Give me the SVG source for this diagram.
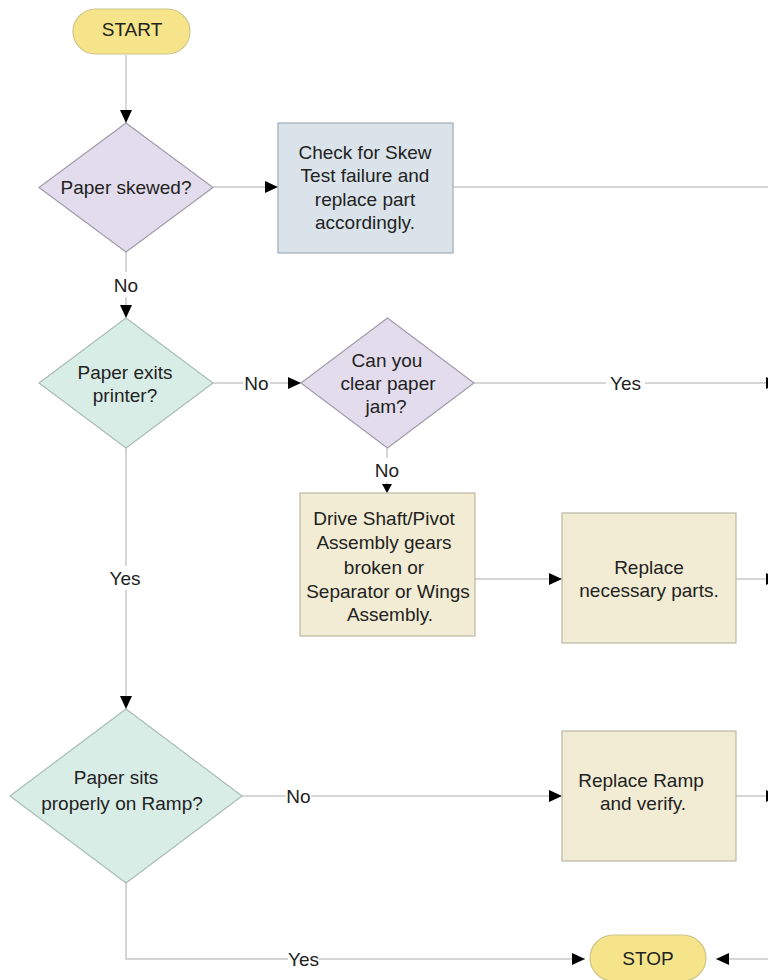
<svg xmlns="http://www.w3.org/2000/svg" width="768" height="980" viewBox="0 0 768 980">
<defs>
<style>
text{font-family:"Liberation Sans",Arial,sans-serif;font-size:19px;fill:#222;text-anchor:middle}
.ln{fill:none;stroke:#c8c8c8;stroke-width:1.5}
.term{fill:#f5e48a;stroke:#cfc48c;stroke-width:1.2}
.lav{fill:#e2dcec;stroke:#a09cac;stroke-width:1.2}
.mint{fill:#d9ede7;stroke:#a9bcb5;stroke-width:1.2}
.blue{fill:#dae2ea;stroke:#a4acb4;stroke-width:1.2}
.beige{fill:#f1ecd3;stroke:#bcb8a2;stroke-width:1.2}
</style>
<marker id="ah" viewBox="0 0 13 12" refX="13" refY="6" markerWidth="13" markerHeight="12" markerUnits="userSpaceOnUse" orient="auto">
<path d="M0,0 L13,6 L0,12 Z" fill="#000"/>
</marker>
<marker id="ahs" viewBox="0 0 9 10" refX="9" refY="5" markerWidth="9" markerHeight="10" markerUnits="userSpaceOnUse" orient="auto">
<path d="M0,0 L9,5 L0,10 Z" fill="#000"/>
</marker>
</defs>
<rect width="768" height="980" fill="#fff"/>

<g id="connectors">
<line class="ln" x1="126" y1="55" x2="126" y2="123" marker-end="url(#ah)"/>
<line class="ln" x1="213" y1="187" x2="278" y2="187" marker-end="url(#ah)"/>
<line class="ln" x1="453" y1="187" x2="768" y2="187"/>
<line class="ln" x1="126" y1="252" x2="126" y2="272"/>
<line class="ln" x1="126" y1="297" x2="126" y2="318" marker-end="url(#ah)"/>
<text x="126" y="291.5">No</text>
<line class="ln" x1="213" y1="383" x2="243" y2="383"/>
<line class="ln" x1="270" y1="383" x2="301" y2="383" marker-end="url(#ah)"/>
<text x="256.5" y="389.5">No</text>
<line class="ln" x1="474" y1="383" x2="606" y2="383"/>
<line class="ln" x1="645" y1="383" x2="779" y2="383" marker-end="url(#ah)"/>
<text x="625.5" y="389.5">Yes</text>
<line class="ln" x1="387" y1="448" x2="387" y2="458"/>
<line class="ln" x1="387" y1="482" x2="387" y2="493" marker-end="url(#ahs)"/>
<text x="387" y="476.5">No</text>
<line class="ln" x1="475" y1="579" x2="562" y2="579" marker-end="url(#ah)"/>
<line class="ln" x1="736" y1="579" x2="779" y2="579" marker-end="url(#ah)"/>
<line class="ln" x1="126" y1="448" x2="126" y2="566"/>
<line class="ln" x1="126" y1="590" x2="126" y2="709" marker-end="url(#ah)"/>
<text x="125" y="584.5">Yes</text>
<line class="ln" x1="242" y1="796" x2="286" y2="796"/>
<line class="ln" x1="311" y1="796" x2="562" y2="796" marker-end="url(#ah)"/>
<text x="298.5" y="802.5">No</text>
<line class="ln" x1="736" y1="796" x2="779" y2="796" marker-end="url(#ah)"/>
<polyline class="ln" points="126,883 126,959 288,959"/>
<line class="ln" x1="319" y1="959" x2="585" y2="959" marker-end="url(#ah)"/>
<text x="303.5" y="965.5">Yes</text>
<line class="ln" x1="768" y1="959" x2="716" y2="959" marker-end="url(#ah)"/>
</g>

<g id="start">
<rect class="term" x="73" y="9" width="117" height="45" rx="22.5"/>
<text x="132" y="36">START</text>
</g>

<g id="paper-skewed">
<polygon class="lav" points="126,123 213,187.5 126,252 39,187.5"/>
<text x="126" y="193.5">Paper skewed?</text>
</g>

<g id="check-skew">
<rect class="blue" x="278" y="123" width="175" height="130"/>
<text x="365" y="158.5">Check for Skew</text>
<text x="365" y="181.5">Test failure and</text>
<text x="365" y="205.5">replace part</text>
<text x="365" y="228.5">accordingly.</text>
</g>

<g id="paper-exits">
<polygon class="mint" points="126,318 213,383 126,448 39,383"/>
<text x="125" y="378.5">Paper exits</text>
<text x="125" y="401.5">printer?</text>
</g>

<g id="clear-jam">
<polygon class="lav" points="387.5,318 474,383 387.5,448 301,383"/>
<text x="387" y="366.5">Can you</text>
<text x="388" y="389.5">clear paper</text>
<text x="386" y="412.5">jam?</text>
</g>

<g id="drive-shaft">
<rect class="beige" x="300" y="493" width="175" height="143"/>
<text x="384" y="524.5">Drive Shaft/Pivot</text>
<text x="384" y="549">Assembly gears</text>
<text x="384" y="573.5">broken or</text>
<text x="388" y="597.5">Separator or Wings</text>
<text x="390" y="621">Assembly.</text>
</g>

<g id="replace-parts">
<rect class="beige" x="562" y="513" width="174" height="130"/>
<text x="649" y="573.5">Replace</text>
<text x="649" y="596.5">necessary parts.</text>
</g>

<g id="paper-sits">
<polygon class="mint" points="126,709 242,796 126,883 10,796"/>
<text x="116" y="783.5">Paper sits</text>
<text x="122" y="809.5">properly on Ramp?</text>
</g>

<g id="replace-ramp">
<rect class="beige" x="562" y="731" width="174" height="130"/>
<text x="641" y="786.5">Replace Ramp</text>
<text x="643" y="809.5">and verify.</text>
</g>

<g id="stop">
<rect class="term" x="590" y="935" width="116" height="46" rx="23"/>
<text x="648" y="965">STOP</text>
</g>
</svg>
